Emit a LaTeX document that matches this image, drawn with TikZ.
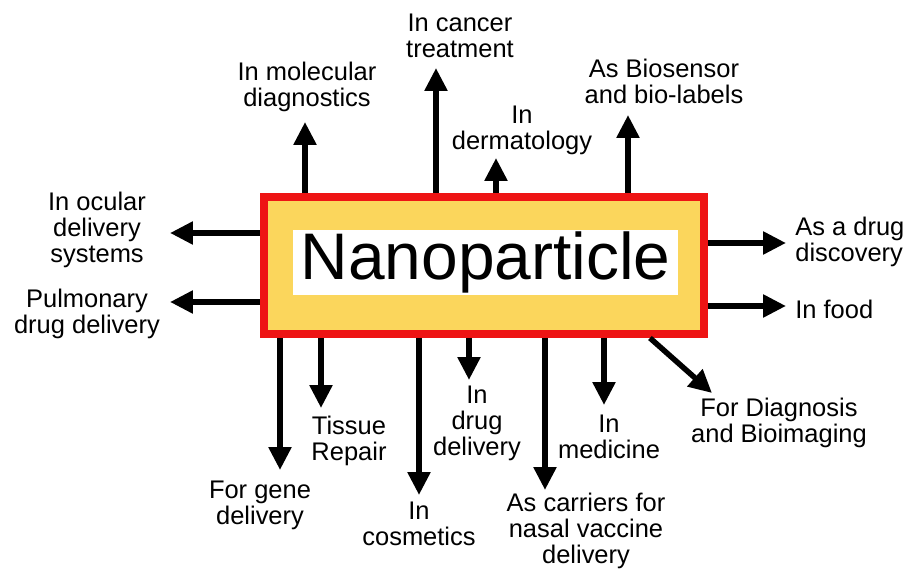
\documentclass[tikz,border=0pt]{standalone}
\usepackage{fontspec}
\setmainfont{Liberation Sans}
\usetikzlibrary{arrows.meta, positioning}
\definecolor{boxred}{RGB}{238,20,20}
\definecolor{boxyellow}{RGB}{251,214,92}

\begin{document}
\begin{tikzpicture}[x=0.02cm, y=-0.02cm,
        core/.style={rectangle, draw=boxred, line width=0.16cm, fill=boxyellow, minimum width=8.8cm, minimum height=2.74cm, inner sep=0pt},
        title/.style={rectangle, fill=white, minimum width=7.7cm, minimum height=1.3cm, inner sep=0pt, font=\fontsize{37.5}{40}\selectfont},
        app/.style={align=center, font=\fontsize{14.5}{14.8}\selectfont, inner sep=0pt},
        arrow/.style={-{Triangle[length=0.46cm, width=0.44cm]}, line width=0.11cm}
    ]
        \useasboundingbox (0,0) rectangle (906,570);

        \node[core] (core) at (484,265.5) {};
        \node[title] (title) at (485.5,262.5) {Nanoparticle};

        % arrow tips
        \coordinate (tipmol) at (305,122);
        \coordinate (tipcan) at (436,68);
        \coordinate (tipder) at (496,158);
        \coordinate (tipbio) at (628,115);
        \coordinate (tipocu) at (170,233);
        \coordinate (tippul) at (170,302);
        \coordinate (tipdis) at (786,243);
        \coordinate (tipfood) at (786,306);
        \coordinate (tipimg) at (712,393);
        \coordinate (tipgene) at (280,470);
        \coordinate (tiptis) at (321,408);
        \coordinate (tipcos) at (419,495);
        \coordinate (tipdrug) at (469,380);
        \coordinate (tipnas) at (545,490);
        \coordinate (tipmed) at (604,405);

        \draw[arrow] (tipmol |- core.north) -- (tipmol);
        \draw[arrow] (tipcan |- core.north) -- (tipcan);
        \draw[arrow] (tipder |- core.north) -- (tipder);
        \draw[arrow] (tipbio |- core.north) -- (tipbio);
        \draw[arrow] (core.west |- tipocu) -- (tipocu);
        \draw[arrow] (core.west |- tippul) -- (tippul);
        \draw[arrow] (core.east |- tipdis) -- (tipdis);
        \draw[arrow] (core.east |- tipfood) -- (tipfood);
        \draw[arrow] ([xshift=-1.16cm]core.south east) -- (tipimg);
        \draw[arrow] (tipgene |- core.south) -- (tipgene);
        \draw[arrow] (tiptis |- core.south) -- (tiptis);
        \draw[arrow] (tipcos |- core.south) -- (tipcos);
        \draw[arrow] (tipdrug |- core.south) -- (tipdrug);
        \draw[arrow] (tipnas |- core.south) -- (tipnas);
        \draw[arrow] (tipmed |- core.south) -- (tipmed);

        % labels
        \node[app] (mol) at (307,87) {In molecular\\diagnostics};
        \node[app] (can) at (460,36) {In cancer\\treatment};
        \node[app] (der) at (522,130) {In\\dermatology};
        \node[app] (bio) at (664,81) {As Biosensor\\and bio-labels};
        \node[app] (ocu) at (97,230) {In ocular\\delivery\\systems};
        \node[app] (pul) at (87,314) {Pulmonary\\drug delivery};
        \node[app, anchor=west, align=left] (dis) at (795,242) {As a drug\\discovery};
        \node[app, anchor=west, align=left] (food) at (795,309) {In food};
        \node[app] (img) at (779,423) {For Diagnosis\\and Bioimaging};
        \node[app] (gene) at (260,505) {For gene\\delivery};
        \node[app] (tis) at (349,441) {Tissue\\Repair};
        \node[app] (cos) at (419,524) {In\\cosmetics};
        \node[app] (drug) at (477,423) {In\\drug\\delivery};
        \node[app] (nas) at (586,531) {As carriers for\\nasal vaccine\\delivery};
        \node[app] (med) at (609,437) {In\\medicine};
    \end{tikzpicture}
\end{document}
